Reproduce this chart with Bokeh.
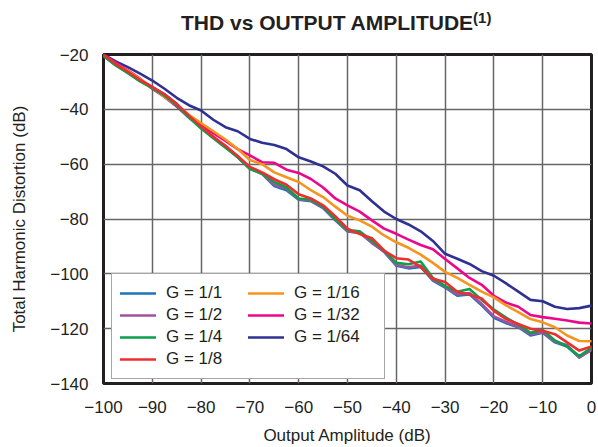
from bokeh.plotting import figure
from bokeh.models import Range1d, FixedTicker, Legend, LegendItem, Div
from bokeh.layouts import column
from bokeh.embed import file_html
from bokeh.resources import INLINE

# ---- data ----
X_DB = [-100, -97.5, -95, -92.5, -90, -87.5, -85, -82.5, -80, -77.5,
        -75, -72.5, -70, -67.5, -65, -62.5, -60, -57.5, -55, -52.5,
        -50, -47.5, -45, -42.5, -40, -37.5, -35, -32.5, -30, -27.5,
        -25, -22.5, -20, -17.5, -15, -12.5, -10, -7.5, -5, -2.5, 0]

THD_G1 = [-20.5, -23.5, -26.5, -29.5, -32, -34.5, -38, -42.5, -46.5, -50,
          -53.5, -57.5, -61.5, -63.5, -68, -69.5, -73, -73.5, -76, -80.5,
          -84.5, -85, -88.5, -92, -97, -98, -97.5, -102.5, -105, -108,
          -107.5, -111.5, -116, -118, -119.5, -122.5, -121.5, -125, -126.5, -130.5, -127.5]

THD_G2 = [-20.5, -23.8, -26.6, -29.6, -32.1, -34.7, -38.2, -42.7, -46.7, -50.2,
          -53.7, -57.3, -61.5, -63.5, -67.5, -69, -72.8, -73.3, -75.8, -80.3,
          -84.5, -85, -88.8, -91.8, -96.8, -97.6, -97, -102, -104.8, -107.5,
          -107, -111, -115.5, -117.5, -119.3, -122, -121.3, -124.8, -126, -130.5, -127.8]

THD_G4 = [-20.5, -24, -26.8, -29.8, -32.3, -35, -38.5, -43, -47, -50.5,
          -54, -57.5, -61.8, -63.5, -66.5, -68.5, -72.5, -73, -75.5, -80,
          -84, -84.5, -88, -91.5, -96, -96.5, -95.5, -101.5, -104.5, -106.5,
          -105.5, -109.5, -113, -116, -118.5, -121.5, -120.5, -124.3, -126.5, -130, -127]

THD_G8 = [-20, -23.5, -26.3, -29.3, -31.8, -34.5, -38, -42.3, -46.3, -50,
          -53.3, -57, -61, -63, -65.5, -67.5, -71, -72.5, -75, -79,
          -83.5, -85.5, -87, -91.5, -94.3, -94.8, -97.5, -101.8, -103, -106.5,
          -107.5, -109, -113.5, -116.5, -118.3, -120, -120.8, -122, -125, -128, -126.5]

THD_G16 = [-20.5, -23.5, -26, -29, -32, -35.5, -38.5, -42, -45, -48,
           -51, -54.5, -58.5, -60, -63, -64.8, -66.5, -69.5, -72, -75.5,
           -78.8, -80.5, -82.8, -86, -88.5, -90.5, -93, -96, -99.3, -101.5,
           -104, -106.5, -108.6, -111.5, -114, -116.5, -117.7, -119.5, -122.5, -124.5, -124.6]

THD_G32 = [-20, -23, -25.8, -28.8, -32.5, -35.5, -39, -43, -45.9, -48.7,
           -51.5, -54.5, -56.8, -59.3, -59.5, -62, -63.2, -65.4, -68.5, -72.5,
           -75, -77.3, -80.5, -83.5, -85.4, -87.5, -89.5, -91, -94.6, -98,
           -101.5, -104, -108, -110.5, -112, -115, -115.8, -116.4, -117, -117.8, -118.1]

THD_G64 = [-20, -22.5, -24.6, -27, -29.5, -32.5, -35.8, -38.5, -40.4, -43.8,
           -46.5, -48, -50.8, -52.2, -53, -54.5, -57.5, -59, -60.8, -63.5,
           -67.8, -69.5, -73.5, -77.3, -80, -82, -84.5, -88, -92.7, -94.5,
           -96.4, -99, -100.7, -103.5, -106.5, -109.5, -110, -112, -112.8, -112.5, -111.6]

LABELS = ["G = 1/1", "G = 1/2", "G = 1/4", "G = 1/8", "G = 1/16", "G = 1/32", "G = 1/64"]
COLORS = ["#1b75bb", "#a3519d", "#0aa04b", "#ee2d2f", "#f7941e", "#ec068d", "#2e3192"]
SERIES = [THD_G1, THD_G2, THD_G4, THD_G8, THD_G16, THD_G32, THD_G64]

X_TICKS = [-100, -90, -80, -70, -60, -50, -40, -30, -20, -10, 0]
Y_TICKS = [-140, -120, -100, -80, -60, -40, -20]

TITLE = "THD vs OUTPUT AMPLITUDE"
TITLE_NOTE = "(1)"

FONT = "Liberation Sans"
TXT = "#231f20"

title_div = Div(
    text=('<div style="position:relative;width:596px;height:40px;">'
          '<span style="position:absolute;left:181px;top:12px;white-space:nowrap;'
          'font-family:\'Liberation Sans\';font-weight:bold;font-size:21px;line-height:21px;'
          'color:#231f20;">' + TITLE +
          '<span style="font-size:15px;position:relative;top:-7px;">' + TITLE_NOTE +
          '</span></span></div>'),
    width=596, height=40, margin=0)

p = figure(width=596, height=407, output_backend="svg", toolbar_location=None,
           x_range=Range1d(-100, 0), y_range=Range1d(-140, -20),
           min_border_left=103, min_border_right=5, min_border_top=14,
           min_border_bottom=64, margin=0)

p.background_fill_color = "white"
p.border_fill_color = "white"
p.outline_line_color = TXT
p.outline_line_width = 3

def fmt(v):
    return str(v).replace("-", "\u2212")

for ax, ticks in ((p.xaxis[0], X_TICKS), (p.yaxis[0], Y_TICKS)):
    ax.ticker = FixedTicker(ticks=ticks)
    ax.major_label_overrides = {t: fmt(t) for t in ticks}
    ax.axis_line_color = None
    ax.major_tick_line_color = None
    ax.minor_tick_line_color = None
    ax.major_label_text_font = FONT
    ax.major_label_text_font_size = "17px"
    ax.major_label_text_color = TXT
    ax.axis_label_text_font = FONT
    ax.axis_label_text_font_size = "17px"
    ax.axis_label_text_font_style = "normal"
    ax.axis_label_text_color = TXT

p.xaxis.axis_label = "Output Amplitude (dB)"
p.yaxis.axis_label = "Total Harmonic Distortion (dB)"
p.xaxis.major_label_standoff = 11
p.yaxis.major_label_standoff = 9
p.xaxis.axis_label_standoff = 10
p.yaxis.axis_label_standoff = 18

p.xgrid.ticker = FixedTicker(ticks=X_TICKS)
p.ygrid.ticker = FixedTicker(ticks=Y_TICKS)
for g in (p.xgrid[0], p.ygrid[0]):
    g.grid_line_color = "#666666"
    g.grid_line_width = 1.5

renderers = {}
draw_order = [6, 5, 4, 0, 1, 2, 3]
for i in draw_order:
    r = p.line(X_DB, SERIES[i], line_color=COLORS[i], line_width=2.6,
               line_join="round", line_cap="round")
    renderers[i] = r

legend = Legend(items=[LegendItem(label=LABELS[i], renderers=[renderers[i]]) for i in range(7)],
                location=(8, 4), nrows=4, orientation="vertical",
                label_text_font=FONT, label_text_font_size="17px", label_text_color=TXT,
                label_height=22, glyph_height=22, glyph_width=36, label_standoff=10,
                label_width=82, spacing=0, padding=8, margin=0,
                border_line_color="#4d4d4d", border_line_width=1.5,
                background_fill_color="white", background_fill_alpha=1.0)
p.add_layout(legend, "center")

layout = column(title_div, p, spacing=0, margin=0)

open("out.html", "w").write(file_html(layout, INLINE))
